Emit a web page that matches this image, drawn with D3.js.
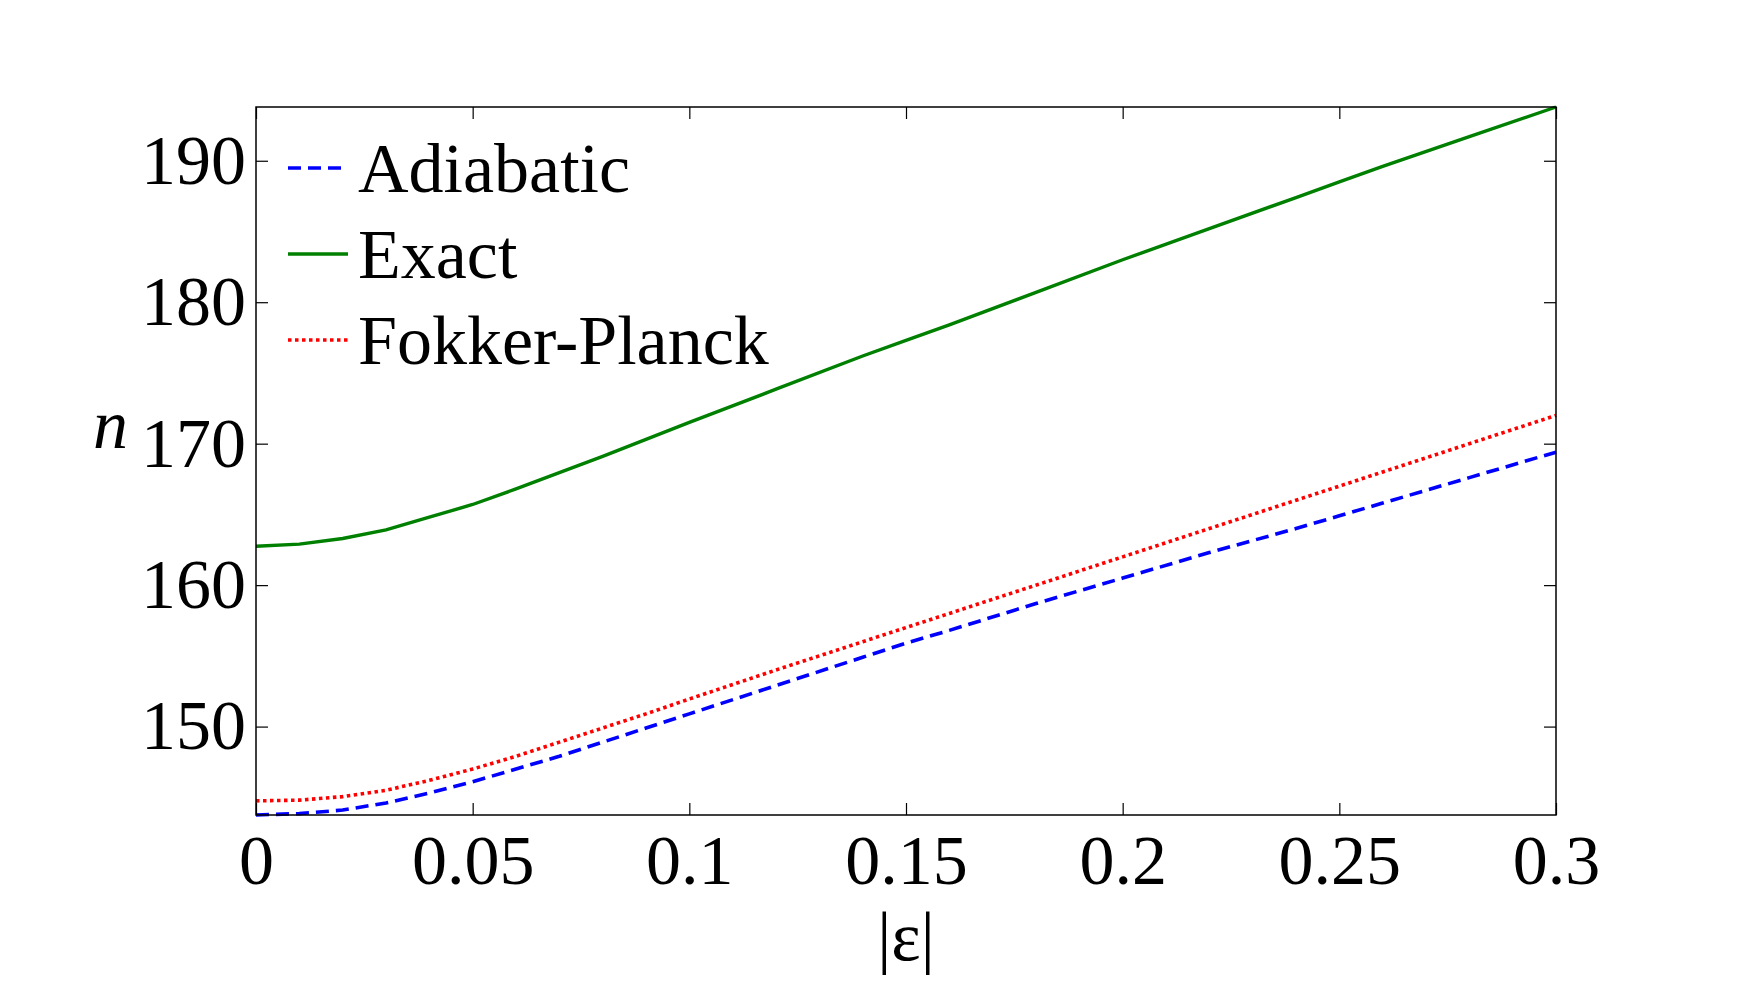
<!DOCTYPE html>
<html>
<head>
<meta charset="utf-8">
<script src="https://cdn.jsdelivr.net/npm/d3@7"></script>
<style>
  body { margin: 0; background: white; }
  svg { display: block; }
</style>
</head>
<body>
<svg id="chart"></svg>
<script>
//|eps| sample positions
const EPS = [0, 0.01, 0.02, 0.03, 0.04, 0.05, 0.06, 0.07, 0.08, 0.09, 0.10,
    0.12, 0.14, 0.15, 0.16, 0.18, 0.20, 0.22, 0.24, 0.25, 0.26, 0.28, 0.30];

//values
const ADIABATIC = [143.75, 143.85, 144.1, 144.6, 145.3, 146.1, 147.0, 147.9, 148.9, 149.9, 150.9,
    152.9, 154.9, 155.9, 156.8, 158.7, 160.5, 162.3, 164.0, 164.9, 165.8, 167.6, 169.4];
const EXACT = [162.75, 162.9, 163.3, 163.9, 164.8, 165.7, 166.8, 167.95, 169.1, 170.3, 171.5,
    173.85, 176.2, 177.3, 178.4, 180.7, 183.0, 185.2, 187.4, 188.5, 189.6, 191.7, 193.8];
const FOKKER = [144.75, 144.8, 145.05, 145.5, 146.2, 147.0, 147.9, 148.9, 149.9, 150.9, 151.95,
    154.0, 156.0, 157.0, 158.0, 160.0, 162.0, 164.0, 166.0, 167.0, 168.0, 170.0, 172.0];

const X_TICKS = [0, 0.05, 0.1, 0.15, 0.2, 0.25, 0.3];
const X_TICK_LABELS = ["0", "0.05", "0.1", "0.15", "0.2", "0.25", "0.3"];
const Y_TICKS = [150, 160, 170, 180, 190];

const SERIES_NAMES = ["Adiabatic", "Exact", "Fokker-Planck"];

const width = 1755, height = 1005;
const margin = { top: 107, right: 199, bottom: 190, left: 256 };
const innerW = width - margin.left - margin.right;
const innerH = height - margin.top - margin.bottom;
const FONT = "'Liberation Serif', 'Times New Roman', serif";

const svg = d3.select("#chart")
    .attr("width", width)
    .attr("height", height)
    .style("background", "white");

const g = svg.append("g")
    .attr("transform", `translate(${margin.left},${margin.top})`);

const x = d3.scaleLinear().domain([0, 0.3]).range([0, innerW]);
const allY = ADIABATIC.concat(EXACT, FOKKER);
const y = d3.scaleLinear().domain(d3.extent(allY)).range([innerH, 0]);

//series styles
const series = [
    { name: SERIES_NAMES[0], values: ADIABATIC, color: "#0000ff", dash: "13,7", width: 3.6 },
    { name: SERIES_NAMES[1], values: EXACT, color: "#008000", dash: null, width: 3.4 },
    { name: SERIES_NAMES[2], values: FOKKER, color: "#ff0000", dash: "3.5,3.5", width: 3.6 }
];

const line = d3.line()
    .x(d => x(d[0]))
    .y(d => y(d[1]));

g.append("defs").append("clipPath").attr("id", "clip")
    .append("rect").attr("x", -2).attr("y", -2).attr("width", innerW + 4).attr("height", innerH + 4);

const plotLayer = g.append("g").attr("clip-path", "url(#clip)");

//draw in order: exact, fokker, adiabatic
[1, 2, 0].forEach(i => {
    const s = series[i];
    plotLayer.append("path")
        .datum(EPS.map((e, j) => [e, s.values[j]]))
        .attr("fill", "none")
        .attr("stroke", s.color)
        .attr("stroke-width", s.width)
        .attr("stroke-dasharray", s.dash)
        .attr("d", line);
});

//axes (ticks inside, mirrored on top/right)
function styleAxis(sel) {
    sel.select(".domain").remove();
    sel.selectAll(".tick line").attr("stroke", "#000").attr("stroke-width", 1.2);
    sel.selectAll("text")
        .style("font-family", FONT)
        .style("font-size", "70px")
        .attr("fill", "#000");
}

g.append("g")
    .attr("transform", `translate(0,${innerH})`)
    .call(d3.axisBottom(x).tickValues(X_TICKS).tickSize(-12).tickPadding(19)
        .tickFormat((d, i) => X_TICK_LABELS[i]))
    .call(styleAxis);

g.append("g")
    .call(d3.axisTop(x).tickValues(X_TICKS).tickSize(-12).tickFormat(""))
    .call(styleAxis);

g.append("g")
    .call(d3.axisLeft(y).tickValues(Y_TICKS).tickSize(-12).tickPadding(10)
        .tickFormat(d3.format("d")))
    .call(styleAxis);

g.append("g")
    .attr("transform", `translate(${innerW},0)`)
    .call(d3.axisRight(y).tickValues(Y_TICKS).tickSize(-12).tickFormat(""))
    .call(styleAxis);

//frame
g.append("rect")
    .attr("width", innerW)
    .attr("height", innerH)
    .attr("fill", "none")
    .attr("stroke", "#000")
    .attr("stroke-width", 1.5);

//axis titles
svg.append("text")
    .attr("x", margin.left + innerW / 2)
    .attr("y", 960)
    .attr("text-anchor", "middle")
    .style("font-family", FONT)
    .style("font-size", "70px")
    .text("|ε|");

svg.append("text")
    .attr("x", 93)
    .attr("y", 448)
    .style("font-family", FONT)
    .style("font-size", "70px")
    .style("font-style", "italic")
    .text("n");

//legend
const legend = g.append("g").attr("transform", "translate(32,61)");
series.forEach((s, i) => {
    const row = legend.append("g").attr("transform", `translate(0,${i * 86})`);
    row.append("line")
        .attr("x1", 0).attr("x2", 60)
        .attr("y1", 0).attr("y2", 0)
        .attr("stroke", s.color)
        .attr("stroke-width", s.width)
        .attr("stroke-dasharray", s.dash);
    row.append("text")
        .attr("x", 70)
        .attr("y", 24)
        .style("font-family", FONT)
        .style("font-size", "70px")
        .text(s.name);
});
</script>
</body>
</html>
